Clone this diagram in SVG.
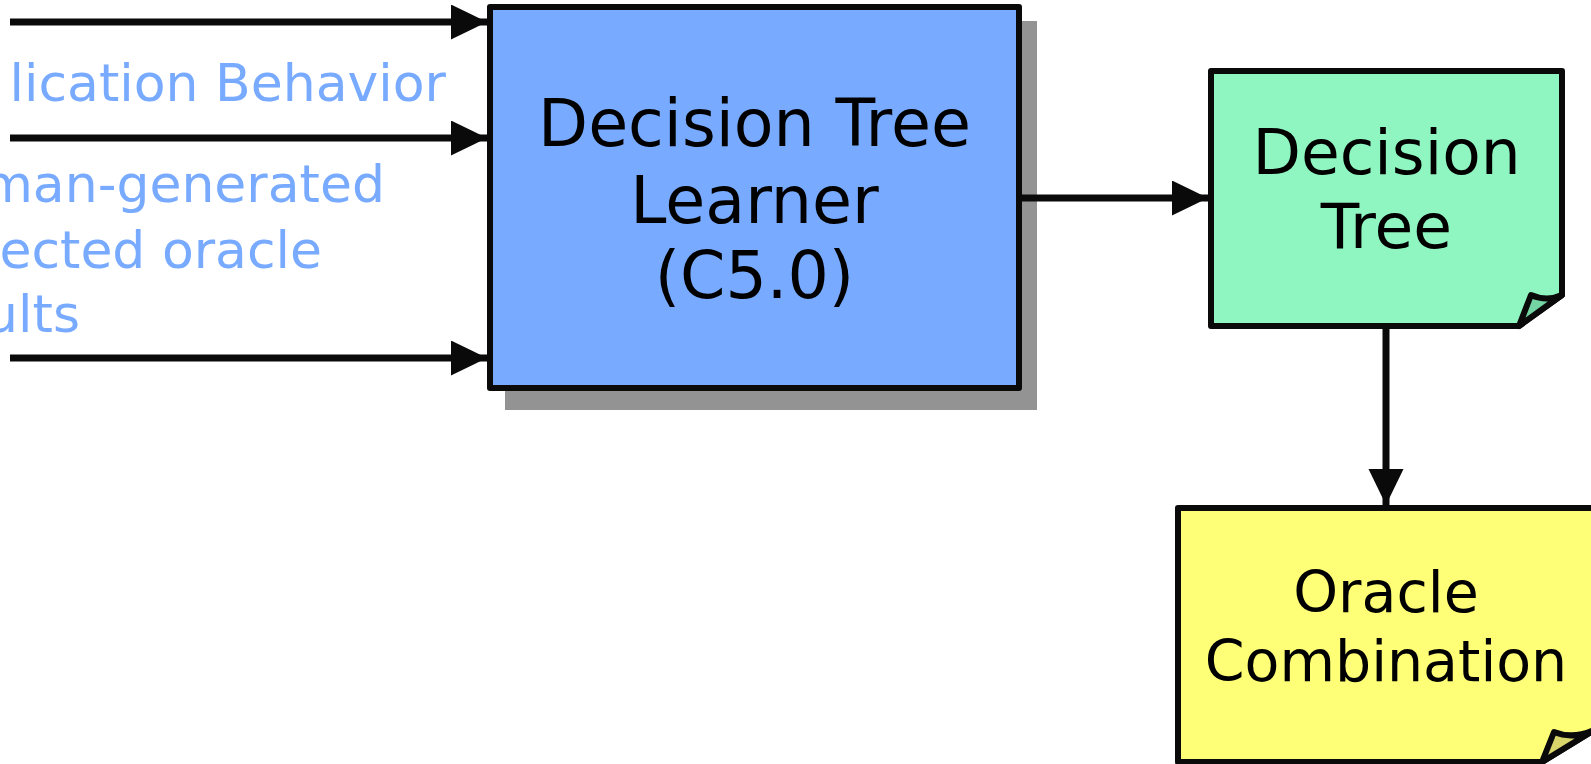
<svg xmlns="http://www.w3.org/2000/svg" width="1591" height="764" viewBox="0 0 1591 764">
  <style>
    .edge { stroke: #0a0a0a; stroke-width: 7; fill: none; }
    .box { stroke: #0a0a0a; stroke-width: 6; stroke-linejoin: round; }
    .label { font-family: "DejaVu Sans", Verdana, sans-serif; fill: #000; text-anchor: middle; }
    .input { font-family: "DejaVu Sans", Verdana, sans-serif; fill: #78aaff; font-size: 52px; text-anchor: end; }
  </style>
  <defs>
    <marker id="arrow" markerUnits="userSpaceOnUse" markerWidth="37" markerHeight="36" refX="36" refY="17.5" orient="auto">
      <path d="M0,0 L36,17.5 L0,35 Z" fill="#0a0a0a"/>
    </marker>
  </defs>
  <rect width="1591" height="764" fill="#ffffff"/>

  <!-- input captions -->
  <g id="inputs">
    <text class="input" x="446" y="101">lication Behavior</text>
    <text class="input" x="385" y="202">man-generated</text>
    <text class="input" x="322" y="268">ected oracle</text>
    <text class="input" x="80" y="332">ults</text>
  </g>

  <!-- learner block with drop shadow -->
  <g id="learner">
    <rect x="505" y="21" width="532" height="389" fill="#939393"/>
    <rect class="box" x="490" y="7" width="529" height="381" fill="#78aaff"/>
    <text class="label" font-size="65" x="754.5" y="146">Decision Tree</text>
    <text class="label" font-size="65" x="754.5" y="223">Learner</text>
    <text class="label" font-size="65" x="754.5" y="298">(C5.0)</text>
  </g>

  <!-- decision tree note -->
  <g id="tree">
    <path class="box" d="M1211,71 H1562 V295 L1519,326 H1211 Z" fill="#8ff5c1"/>
    <path class="box" d="M1519,326 L1531,295 Q1547,302 1562,295 Z" fill="#74d4a3"/>
    <text class="label" font-size="63" x="1386.5" y="174">Decision</text>
    <text class="label" font-size="63" x="1386.5" y="248">Tree</text>
  </g>

  <!-- oracle combination note -->
  <g id="combination">
    <path class="box" d="M1178,508 H1596 V729 L1542,762 H1178 Z" fill="#ffff77"/>
    <path class="box" d="M1542,762 L1554,732 Q1574,740 1596,729 Z" fill="#d8d56b"/>
    <text class="label" font-size="57" x="1386" y="612">Oracle</text>
    <text class="label" font-size="57" x="1386" y="681">Combination</text>
  </g>

  <!-- connectors -->
  <g id="connectors">
    <line class="edge" x1="10" y1="22" x2="487" y2="22" marker-end="url(#arrow)"/>
    <line class="edge" x1="10" y1="138" x2="487" y2="138" marker-end="url(#arrow)"/>
    <line class="edge" x1="10" y1="358" x2="487" y2="358" marker-end="url(#arrow)"/>
    <line class="edge" x1="1022" y1="198" x2="1208" y2="198" marker-end="url(#arrow)"/>
    <line class="edge" x1="1386" y1="329" x2="1386" y2="505" marker-end="url(#arrow)"/>
  </g>
</svg>
